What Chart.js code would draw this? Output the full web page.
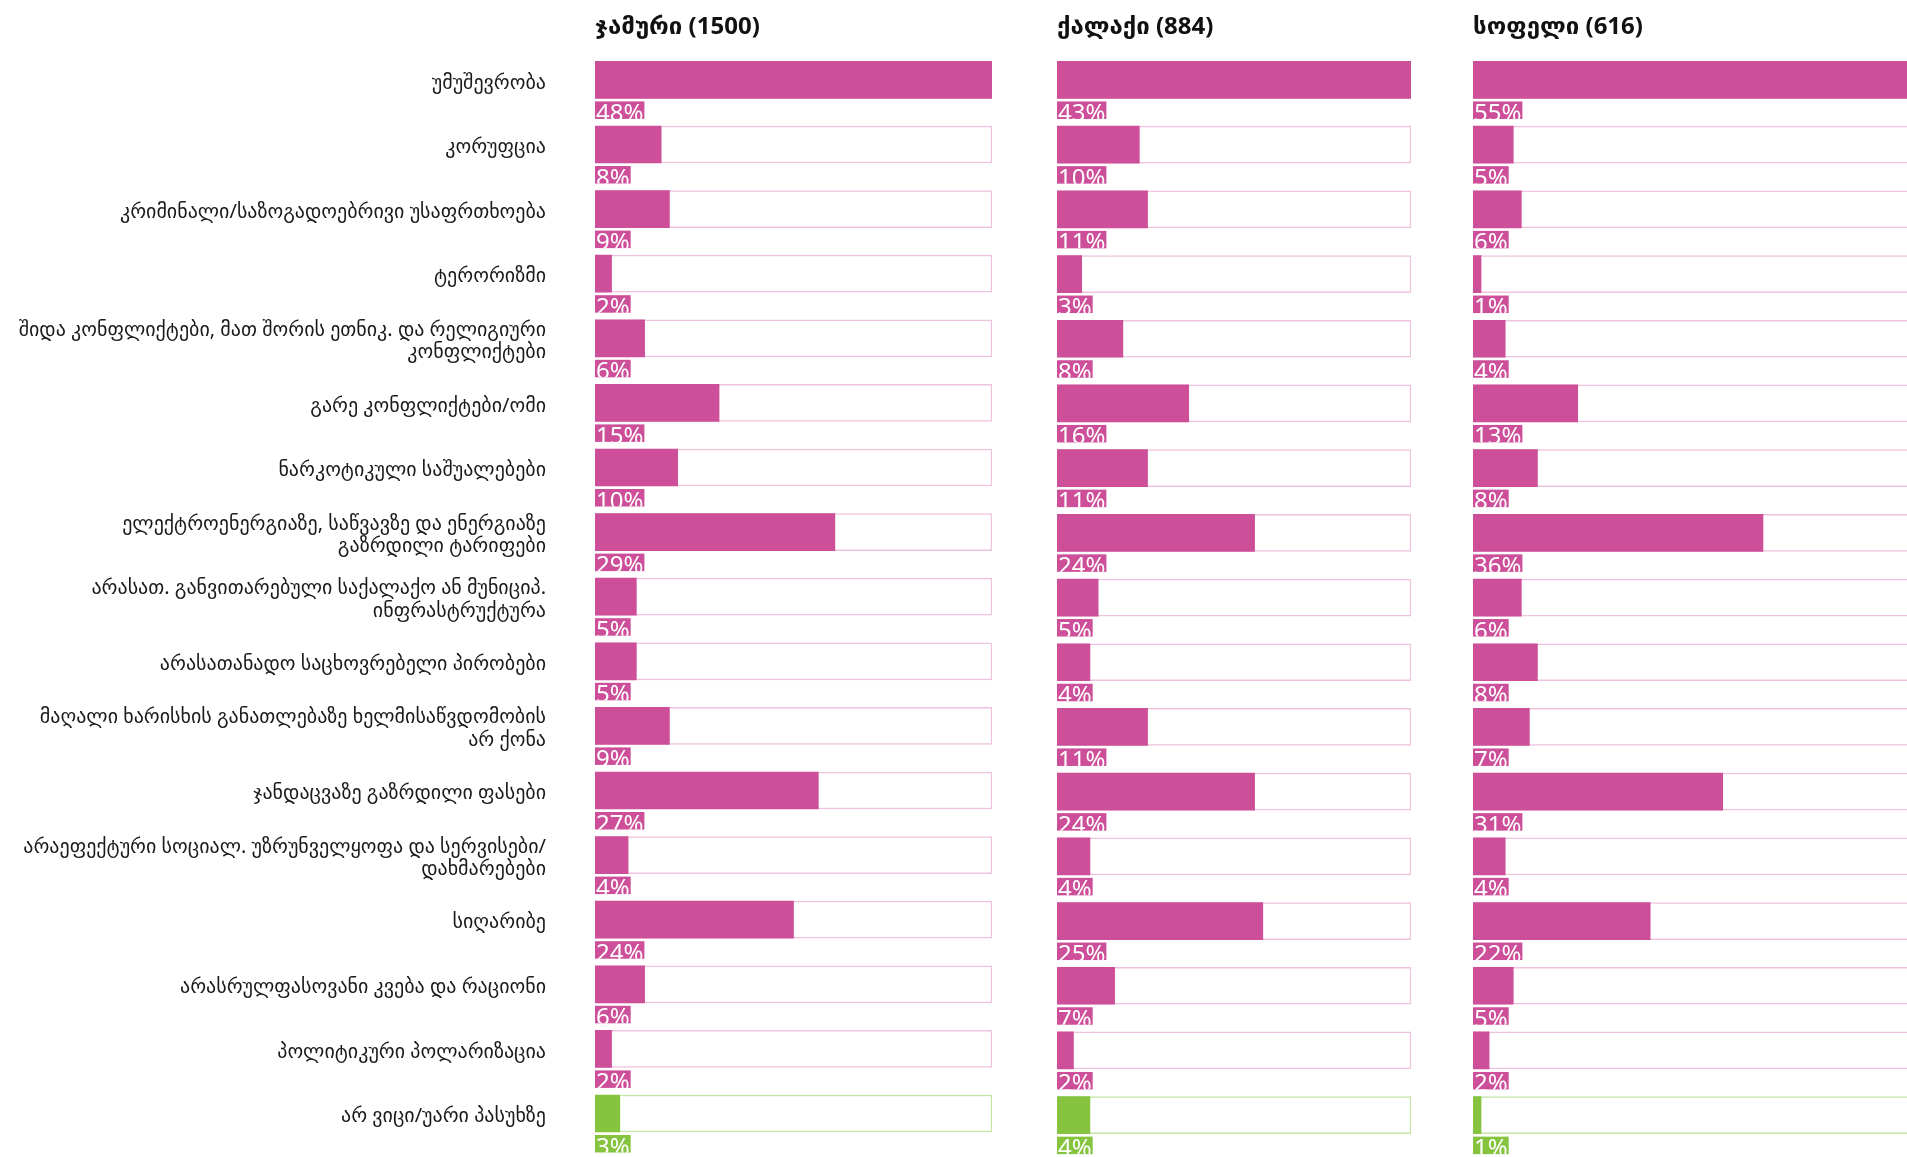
<!DOCTYPE html>
<html>
<head>
<meta charset="utf-8">
<script src="https://cdn.jsdelivr.net/npm/chart.js@4"></script>
<style>
  html, body { margin: 0; padding: 0; background: #fff; overflow: hidden; width: 1907px; height: 1157px; }
  canvas { position: absolute; top: 0; }
</style>
</head>
<body>
<canvas id="c1" width="1000" height="1157" style="left:0px"></canvas>
<canvas id="c2" width="370" height="1157" style="left:1050px"></canvas>
<canvas id="c3" width="460" height="1157" style="left:1466px"></canvas>
<script>
const categories = [
  "უმუშევრობა",
  "კორუფცია",
  "კრიმინალი/საზოგადოებრივი უსაფრთხოება",
  "ტერორიზმი",
  ["შიდა კონფლიქტები, მათ შორის ეთნიკ. და რელიგიური", "კონფლიქტები"],
  "გარე კონფლიქტები/ომი",
  "ნარკოტიკული საშუალებები",
  ["ელექტროენერგიაზე, საწვავზე და ენერგიაზე", "გაზრდილი ტარიფები"],
  ["არასათ. განვითარებული საქალაქო ან მუნიციპ.", "ინფრასტრუქტურა"],
  "არასათანადო საცხოვრებელი პირობები",
  ["მაღალი ხარისხის განათლებაზე ხელმისაწვდომობის", "არ ქონა"],
  "ჯანდაცვაზე გაზრდილი ფასები",
  ["არაეფექტური სოციალ. უზრუნველყოფა და სერვისები/", "დახმარებები"],
  "სიღარიბე",
  "არასრულფასოვანი კვება და რაციონი",
  "პოლიტიკური პოლარიზაცია",
  "არ ვიცი/უარი პასუხზე"
];
const panelTitles = ["ჯამური (1500)", "ქალაქი (884)", "სოფელი (616)"];
const totalValues = [48, 8, 9, 2, 6, 15, 10, 29, 5, 5, 9, 27, 4, 24, 6, 2, 3];
const cityValues  = [43, 10, 11, 3, 8, 16, 11, 24, 5, 4, 11, 24, 4, 25, 7, 2, 4];
const villageValues = [55, 5, 6, 1, 4, 13, 8, 36, 6, 8, 7, 31, 4, 22, 5, 2, 1];
const dontKnowIndex = 16;

const PINK = '#CD4F9A', PINK_LIGHT = '#EFC3DE';
const GREEN = '#86C440', GREEN_LIGHT = '#C6E4A6';
const FONT = '"Noto Sans", "DejaVu Sans", sans-serif';

const fills = categories.map((c, i) => i === dontKnowIndex ? GREEN : PINK);
const borders = categories.map((c, i) => i === dontKnowIndex ? GREEN_LIGHT : PINK_LIGHT);

const decorPlugin = {
  id: 'decor',
  afterDatasetsDraw(chart, args, opts) {
    const ctx = chart.ctx;
    const area = chart.chartArea;
    const meta = chart.getDatasetMeta(0);
    const data = chart.data.datasets[0].data;
    ctx.save();
    ctx.font = '24px ' + FONT;
    meta.data.forEach((el, i) => {
      const txt = Math.round(data[i]) + '%';
      const w = ctx.measureText(txt).width + 2;
      const top = el.y + el.height / 2 + 3;
      const h = 17.5;
      ctx.save();
      ctx.fillStyle = fills[i];
      ctx.fillRect(area.left, top, w, h);
      ctx.beginPath();
      ctx.rect(area.left, top, w, h);
      ctx.clip();
      ctx.fillStyle = '#ffffff';
      ctx.textBaseline = 'alphabetic';
      ctx.textAlign = 'left';
      ctx.fillText(txt, area.left + 1, top + 19.5);
      ctx.restore();
    });
    ctx.restore();
    ctx.save();
    ctx.font = 'bold 24px ' + FONT;
    ctx.fillStyle = '#111';
    ctx.textBaseline = 'middle';
    ctx.textAlign = 'left';
    ctx.fillText(opts.text, area.left, 27);
    ctx.restore();
  }
};

function makeChart(id, values, title, pad, showLabels) {
  const maxV = Math.max(...values);
  return new Chart(document.getElementById(id), {
    type: 'bar',
    data: {
      labels: categories,
      datasets: [
        {
          data: values,
          backgroundColor: fills,
          borderWidth: 0,
          grouped: false,
          order: 1,
          barThickness: 37
        },
        {
          data: values.map(() => maxV),
          backgroundColor: '#ffffff',
          borderColor: borders,
          borderWidth: 1.5,
          borderSkipped: false,
          grouped: false,
          order: 2,
          barThickness: 37
        }
      ]
    },
    options: {
      indexAxis: 'y',
      responsive: false,
      animation: false,
      devicePixelRatio: 1,
      layout: { padding: { top: 47.6, bottom: 9.5, left: pad[0], right: pad[1] } },
      scales: {
        x: { display: false, min: 0, max: maxV },
        y: {
          display: showLabels,
          grid: { display: false, drawTicks: true, tickLength: 49 },
          border: { display: false },
          ticks: {
            padding: 0,
            labelOffset: 3,
            color: '#1a1a1a',
            font: { family: FONT, size: 20, lineHeight: 1.12 }
          },
          afterFit: showLabels ? (s) => { s.width = 595; } : undefined
        }
      },
      plugins: {
        legend: { display: false },
        tooltip: { enabled: false },
        decor: { text: title }
      }
    },
    plugins: [decorPlugin]
  });
}

makeChart('c1', totalValues, panelTitles[0], [0, 8], true);
makeChart('c2', cityValues, panelTitles[1], [7, 9], false);
makeChart('c3', villageValues, panelTitles[2], [7, 10], false);
</script>
</body>
</html>
